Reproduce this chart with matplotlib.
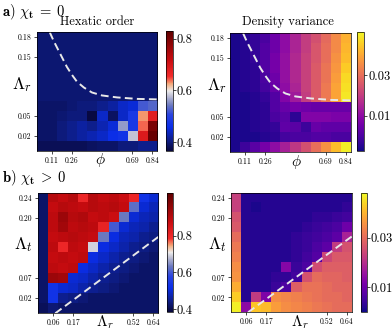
import numpy as np
import matplotlib
matplotlib.use('Agg')
import matplotlib.pyplot as plt
from matplotlib.colors import LinearSegmentedColormap, Normalize

plt.rcParams['font.family'] = 'serif'
plt.rcParams['font.serif'] = ['cmr10']
plt.rcParams['mathtext.fontset'] = 'cm'
plt.rcParams['axes.unicode_minus'] = False

# ---- data (rows listed top -> bottom, 12 x 12 grids) ----
phi_labels = ['0.11', '0.26', '0.69', '0.84']
lam_r_labels_a = ['0.18', '0.15', '0.05', '0.02']
lam_r_labels_b = ['0.06', '0.17', '0.52', '0.64']
lam_t_labels = ['0.24', '0.20', '0.07', '0.02']

hex_a = [
    [0.395] * 12,
    [0.395] * 12,
    [0.395] * 12,
    [0.395] * 12,
    [0.395] * 12,
    [0.395] * 12,
    [0.395] * 12,
    [0.39, 0.39, 0.39, 0.395, 0.40, 0.40, 0.41, 0.42, 0.44, 0.45, 0.52, 0.53],
    [0.39, 0.39, 0.395, 0.40, 0.40, 0.37, 0.44, 0.385, 0.44, 0.48, 0.63, 0.68],
    [0.39, 0.39, 0.40, 0.41, 0.42, 0.41, 0.43, 0.45, 0.56, 0.48, 0.64, 0.80],
    [0.39, 0.39, 0.40, 0.41, 0.42, 0.43, 0.44, 0.46, 0.47, 0.58, 0.69, 0.82],
    [0.38, 0.38, 0.38, 0.38, 0.38, 0.385, 0.39, 0.39, 0.40, 0.40, 0.41, 0.41],
]

dens_a = [
    [-0.006, -0.005, -0.003, 0.000, 0.005, 0.010, 0.015, 0.020, 0.024, 0.029, 0.035, 0.041],
    [-0.006, -0.005, -0.003, 0.001, 0.005, 0.010, 0.015, 0.020, 0.025, 0.030, 0.035, 0.042],
    [-0.006, -0.005, -0.003, 0.001, 0.006, 0.011, 0.016, 0.021, 0.025, 0.030, 0.036, 0.043],
    [-0.006, -0.005, -0.004, 0.001, 0.006, 0.011, 0.016, 0.021, 0.026, 0.031, 0.037, 0.045],
    [-0.006, -0.005, -0.004, 0.000, 0.005, 0.011, 0.016, 0.021, 0.026, 0.031, 0.038, 0.047],
    [-0.006, -0.005, -0.004, -0.001, 0.004, 0.010, 0.015, 0.021, 0.026, 0.032, 0.039, 0.048],
    [-0.006, -0.006, -0.005, -0.003, 0.001, 0.008, 0.013, 0.020, 0.026, 0.032, 0.039, 0.049],
    [-0.006, -0.006, -0.005, -0.004, 0.001, 0.004, 0.006, 0.005, 0.004, 0.004, 0.004, 0.004],
    [-0.006, -0.006, -0.005, -0.004, 0.000, 0.002, -0.004, 0.008, 0.008, 0.008, 0.007, 0.007],
    [-0.006, -0.006, -0.005, -0.004, -0.003, 0.003, 0.002, -0.002, 0.004, 0.003, 0.003, 0.003],
    [-0.006, -0.006, -0.006, -0.005, -0.004, -0.001, 0.000, 0.000, 0.001, 0.001, 0.000, 0.000],
    [-0.006, -0.002, 0.002, 0.006, 0.010, 0.014, 0.019, 0.024, 0.030, 0.036, 0.043, 0.050],
]

hex_b = [
    [0.42, 0.90, 0.88, 0.90, 0.80, 0.90, 0.88, 0.89, 0.87, 0.80, 0.53, 0.50],
    [0.42, 0.88, 0.90, 0.89, 0.88, 0.90, 0.89, 0.90, 0.88, 0.62, 0.50, 0.48],
    [0.42, 0.89, 0.94, 0.90, 0.91, 0.88, 0.89, 0.87, 0.63, 0.50, 0.48, 0.47],
    [0.42, 0.89, 0.93, 0.89, 0.90, 0.89, 0.81, 0.60, 0.50, 0.48, 0.47, 0.45],
    [0.42, 0.88, 0.89, 0.90, 0.89, 0.88, 0.63, 0.51, 0.48, 0.47, 0.45, 0.44],
    [0.42, 0.89, 0.80, 0.89, 0.88, 0.69, 0.51, 0.49, 0.47, 0.45, 0.44, 0.43],
    [0.42, 0.88, 0.89, 0.88, 0.89, 0.51, 0.49, 0.47, 0.45, 0.44, 0.43, 0.42],
    [0.42, 0.89, 0.88, 0.89, 0.51, 0.49, 0.47, 0.45, 0.44, 0.43, 0.42, 0.42],
    [0.42, 0.94, 0.93, 0.50, 0.49, 0.47, 0.45, 0.44, 0.43, 0.42, 0.42, 0.42],
    [0.42, 0.53, 0.50, 0.49, 0.47, 0.45, 0.44, 0.43, 0.42, 0.42, 0.42, 0.42],
    [0.42, 0.53, 0.45, 0.44, 0.43, 0.42, 0.42, 0.42, 0.42, 0.42, 0.42, 0.42],
    [0.41, 0.43, 0.42, 0.42, 0.42, 0.42, 0.42, 0.42, 0.42, 0.42, 0.42, 0.42],
]

dens_b = [
    [0.023, 0.002, 0.002, 0.002, 0.002, 0.002, 0.002, 0.002, 0.002, 0.002, 0.002, 0.002],
    [0.023, 0.002, 0.001, 0.002, 0.002, 0.002, 0.002, 0.002, 0.002, 0.002, 0.002, 0.003],
    [0.026, 0.002, 0.002, 0.002, 0.002, 0.002, 0.002, 0.002, 0.003, 0.003, 0.004, 0.005],
    [0.027, 0.002, 0.002, 0.002, 0.002, 0.002, 0.002, 0.003, 0.004, 0.005, 0.006, 0.010],
    [0.030, 0.002, 0.002, 0.002, 0.002, 0.002, 0.003, 0.004, 0.005, 0.006, 0.008, 0.018],
    [0.032, 0.002, 0.002, 0.002, 0.002, 0.002, 0.003, 0.004, 0.006, 0.008, 0.022, 0.026],
    [0.033, 0.002, 0.002, 0.002, 0.002, 0.002, 0.003, 0.005, 0.007, 0.024, 0.027, 0.027],
    [0.035, 0.002, 0.002, 0.002, 0.002, 0.013, 0.004, 0.006, 0.025, 0.028, 0.028, 0.028],
    [0.036, 0.002, 0.002, 0.002, 0.003, 0.003, 0.005, 0.026, 0.030, 0.029, 0.029, 0.028],
    [0.039, 0.002, 0.002, 0.002, 0.004, 0.006, 0.028, 0.031, 0.031, 0.030, 0.029, 0.029],
    [0.043, 0.002, 0.022, 0.012, 0.035, 0.034, 0.033, 0.032, 0.031, 0.030, 0.030, 0.029],
    [0.047, 0.014, 0.042, 0.041, 0.037, 0.035, 0.034, 0.033, 0.032, 0.031, 0.030, 0.030],
]

# dashed boundaries, in (column, row-from-top) grid units
bound_a_x = [1.3, 1.7, 2.15, 2.6, 3.0, 3.5, 4.0, 4.7, 5.5, 6.5, 8.0, 10.0, 12.0]
bound_a_y = [0.0, 0.9, 1.8, 2.7, 3.5, 4.3, 5.0, 5.6, 6.1, 6.4, 6.6, 6.75, 6.8]
bound_b_x = [1.7, 12.0]
bound_b_y = [12.0, 4.4]

hex_cmap = LinearSegmentedColormap.from_list('hex', [
    (0.0, '#08083c'), (0.08, '#0e1c80'), (0.2, '#0a2ee8'), (0.3, '#2a44e0'),
    (0.38, '#6a78c0'), (0.46, '#c0c0d4'), (0.5, '#eeeeee'), (0.56, '#f4a878'),
    (0.62, '#f42c2c'), (0.76, '#c80c10'), (1.0, '#600000')])

fig = plt.figure(figsize=(3.92, 3.33), dpi=100)
W, H = 392.0, 333.0


def box(x0, y0, x1, y1):
    return [x0 / W, 1 - y1 / H, (x1 - x0) / W, (y1 - y0) / H]


def panel(ax_box, cax_box, data, cmap, norm, xlabels, ylabels, xname, yname,
          xname_pos, yname_pos, bx, by, cticks):
    ax = fig.add_axes(box(*ax_box))
    cax = fig.add_axes(box(*cax_box))
    im = ax.imshow(np.array(data), cmap=cmap, norm=norm, extent=(0, 12, 12, 0),
                   aspect='auto', interpolation='nearest')
    ax.plot(bx, by, color='#e8e8e8', lw=1.4, dashes=(4, 2.2))
    ax.set_xlim(0, 12)
    ax.set_ylim(12, 0)
    ax.set_xticks([1.5, 3.5, 9.5, 11.5])
    ax.set_xticklabels(xlabels)
    ax.set_yticks([0.5, 2.5, 8.5, 10.5])
    ax.set_yticklabels(ylabels)
    ax.tick_params(labelsize=5.6, length=2, width=0.5, pad=2)
    for s in ax.spines.values():
        s.set_linewidth(0.5)
    ax.text(xname_pos[0], xname_pos[1], xname, transform=ax.transAxes,
            ha='center', va='center', fontsize=11)
    ax.text(yname_pos[0], yname_pos[1], yname, transform=ax.transAxes,
            ha='center', va='center', fontsize=12.5)
    cb = fig.colorbar(im, cax=cax, ticks=cticks)
    cb.ax.set_yticklabels([('%g' % t) for t in cticks])
    cb.ax.tick_params(labelsize=9, length=2, width=0.5, pad=1)
    cb.outline.set_linewidth(0.5)
    return ax


panel((36.7, 32.3, 157.3, 150.7), (166, 31, 172.7, 151), hex_a, hex_cmap,
      Normalize(0.365, 0.83), phi_labels, lam_r_labels_a,
      r'$\phi$', r'$\Lambda_r$', (0.53, -0.08), (-0.12, 0.56),
      bound_a_x, bound_a_y, [0.4, 0.6, 0.8])
panel((230, 33.3, 351, 151.7), (357.3, 31.7, 364, 151), dens_a, 'plasma',
      Normalize(-0.0073, 0.0513), phi_labels, lam_r_labels_a,
      r'$\phi$', r'$\Lambda_r$', (0.55, -0.085), (-0.11, 0.56),
      bound_a_x, bound_a_y, [0.01, 0.03])
panel((38.3, 192.7, 158.3, 313.3), (166.7, 193.3, 172.7, 311.7), hex_b, hex_cmap,
      Normalize(0.385, 1.03), lam_r_labels_b, lam_t_labels,
      r'$\Lambda_r$', r'$\Lambda_t$', (0.556, -0.075), (-0.12, 0.567),
      bound_b_x, bound_b_y, [0.4, 0.6, 0.8])
panel((231, 192.7, 351.7, 312.3), (360.7, 193.3, 366.7, 311.7), dens_b, 'plasma',
      Normalize(0.0, 0.048), lam_r_labels_b, lam_t_labels,
      r'$\Lambda_r$', r'$\Lambda_t$', (0.572, -0.08), (-0.11, 0.567),
      bound_b_x, bound_b_y, [0.01, 0.03])

fig.text(97 / W, 1 - 22 / H, 'Hexatic order', ha='center', va='center', fontsize=9)
fig.text(288 / W, 1 - 22 / H, 'Density variance', ha='center', va='center', fontsize=9)
fig.text(2 / W, 1 - 12 / H, r'$\mathbf{a)}\ \chi_{\mathbf{t}}\;=\;\mathbf{0}$',
         ha='left', va='center', fontsize=10.5)
fig.text(2 / W, 1 - 178 / H, r'$\mathbf{b)}\ \chi_{\mathbf{t}}\;>\;\mathbf{0}$',
         ha='left', va='center', fontsize=10.5)

fig.savefig('out.png', dpi=100)
